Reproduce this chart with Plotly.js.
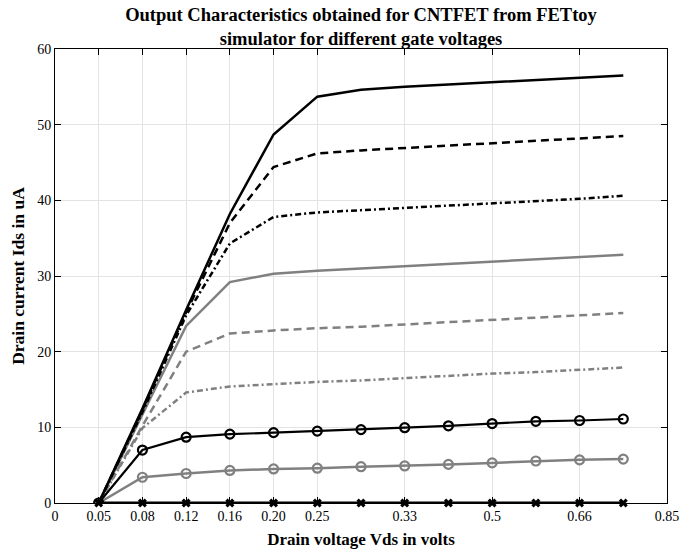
<!DOCTYPE html>
<html>
<head>
<meta charset="utf-8">
<script src="https://cdn.plot.ly/plotly-3.0.1.min.js"></script>
<style>html,body{margin:0;padding:0;background:#fff;}#chart{width:697px;height:554px;}</style>
</head>
<body>
<div id="chart"></div>
<script>
// x positions are category indices; tick labels give the Vds values
var xIndex = [1,2,3,4,5,6,7,8,9,10,11,12,13];
var tickPositions = [0,1,2,3,4,5,6,8,10,12,14];
var tickLabels = ['0','0.05','0.08','0.12','0.16','0.20','0.25','0.33','0.5','0.66','0.85'];

var idsBlackSolid   = [0, 12.5, 25.5, 38.2, 48.7, 53.7, 54.6, 55.0, 55.3, 55.6, 55.9, 56.2, 56.5];
var idsBlackDash    = [0, 12.3, 25.2, 37.0, 44.4, 46.2, 46.6, 46.9, 47.2, 47.5, 47.8, 48.1, 48.5];
var idsBlackDashDot = [0, 12.0, 24.8, 34.3, 37.8, 38.4, 38.7, 39.0, 39.3, 39.6, 39.9, 40.2, 40.6];
var idsGraySolid    = [0, 11.6, 23.4, 29.2, 30.3, 30.7, 31.0, 31.3, 31.6, 31.9, 32.2, 32.5, 32.8];
var idsGrayDash     = [0, 10.2, 20.0, 22.4, 22.8, 23.1, 23.3, 23.6, 23.9, 24.2, 24.5, 24.8, 25.1];
var idsGrayDashDot  = [0, 9.9, 14.6, 15.4, 15.7, 16.0, 16.2, 16.5, 16.8, 17.1, 17.3, 17.6, 17.9];
var idsBlackCircle  = [0, 7.0, 8.7, 9.1, 9.3, 9.5, 9.7, 9.95, 10.2, 10.5, 10.8, 10.9, 11.1];
var idsGrayCircle   = [0, 3.4, 3.9, 4.3, 4.5, 4.6, 4.8, 4.9, 5.1, 5.3, 5.55, 5.7, 5.8];
var idsZero         = [0, 0, 0, 0, 0, 0, 0, 0, 0, 0, 0, 0, 0];

var BLACK = '#000000', GRAY = '#808080';

function lineTrace(y, color, dash, width) {
  return {x: xIndex, y: y, type: 'scatter', mode: 'lines',
    line: {color: color, width: width, dash: dash}, hoverinfo: 'skip'};
}

var traces = [
  lineTrace(idsGrayDashDot, GRAY, '6px,3px,2px,3px', 2.5),
  lineTrace(idsGrayDash, GRAY, '8px,5px', 2.5),
  lineTrace(idsGraySolid, GRAY, 'solid', 2.5),
  lineTrace(idsBlackDashDot, BLACK, '6px,3px,2px,3px', 2.5),
  lineTrace(idsBlackDash, BLACK, '8px,5px', 2.5),
  lineTrace(idsBlackSolid, BLACK, 'solid', 2.5),
  {x: xIndex, y: idsGrayCircle, type: 'scatter', mode: 'lines+markers',
    line: {color: GRAY, width: 2.5},
    marker: {symbol: 'circle-open', size: 9, color: GRAY, line: {width: 2.2, color: GRAY}}},
  {x: xIndex, y: idsBlackCircle, type: 'scatter', mode: 'lines+markers',
    line: {color: BLACK, width: 2.2},
    marker: {symbol: 'circle-open', size: 9, color: BLACK, line: {width: 2.2, color: BLACK}}},
  {x: xIndex, y: idsZero, type: 'scatter', mode: 'lines+markers', cliponaxis: false,
    line: {color: BLACK, width: 3},
    marker: {symbol: 'x', size: 8, color: BLACK, line: {width: 0}}}
];

var serif = 'Liberation Serif, Times New Roman, serif';
var layout = {
  width: 697, height: 554,
  margin: {l: 55, r: 30, t: 49, b: 51},
  paper_bgcolor: '#fff', plot_bgcolor: '#fff',
  showlegend: false,
  font: {family: serif, size: 14, color: '#000'},
  title: {text: '<b>Output Characteristics obtained for CNTFET from FETtoy<br>simulator for different gate voltages</b>',
    font: {family: serif, size: 18.5, color: '#000'}, x: 0.5, xref: 'paper', xanchor: 'center',
    y: 0.962, yref: 'container', yanchor: 'top'},
  xaxis: {
    range: [0, 14], tickmode: 'array', tickvals: tickPositions, ticktext: tickLabels,
    showgrid: true, gridcolor: '#e3e3e3', gridwidth: 1, zeroline: false,
    showline: true, linecolor: '#000', linewidth: 1, mirror: 'ticks',
    ticks: 'inside', ticklen: 6, tickcolor: '#000',
    tickfont: {family: serif, size: 14, color: '#000'},
    title: {text: '<b>Drain voltage Vds in volts</b>', font: {family: serif, size: 17, color: '#000'}, standoff: 10}
  },
  yaxis: {
    range: [0, 60], dtick: 10,
    showgrid: true, gridcolor: '#e3e3e3', gridwidth: 1, zeroline: false,
    showline: true, linecolor: '#000', linewidth: 1, mirror: 'ticks',
    ticks: 'inside', ticklen: 6, tickcolor: '#000',
    tickfont: {family: serif, size: 14, color: '#000'},
    title: {text: '<b>Drain current Ids in uA</b>', font: {family: serif, size: 17.5, color: '#000'}, standoff: 8}
  }
};

Plotly.newPlot('chart', traces, layout, {staticPlot: true, displayModeBar: false});
</script>
</body>
</html>
